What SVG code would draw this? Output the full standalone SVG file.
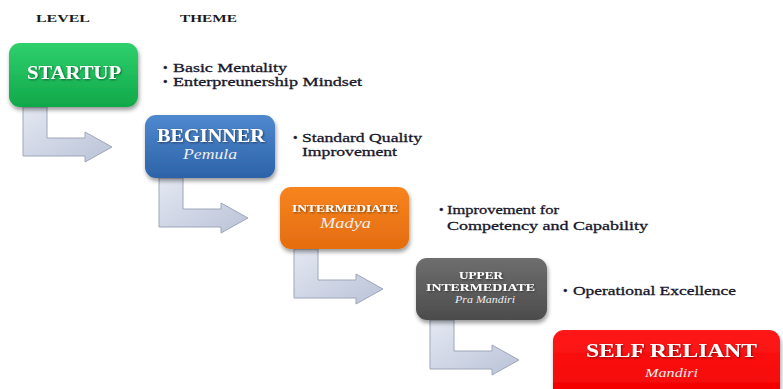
<svg xmlns="http://www.w3.org/2000/svg" width="783" height="389" viewBox="0 0 783 389">
<defs>
<style>
.hdr{font-family:"Liberation Serif",serif;font-weight:bold;font-size:11px;fill:#1a1a1a}
.t{font-family:"Liberation Serif",serif;font-weight:bold;fill:#ffffff;filter:url(#ts)}
.s{font-family:"Liberation Serif",serif;font-style:italic;fill:#eeeeee}
.th{font-family:"Liberation Serif",serif;font-size:13px;fill:#17172a;stroke:#17172a;stroke-width:0.3}
.arr{fill:url(#ga);stroke:#9ea6b8;stroke-width:1}
.box{filter:url(#sh)}
</style>
<filter id="sh" x="-10%" y="-10%" width="125%" height="135%">
<feGaussianBlur in="SourceAlpha" stdDeviation="2"/>
<feOffset dx="1" dy="3" result="b"/>
<feComponentTransfer><feFuncA type="linear" slope="0.4"/></feComponentTransfer>
<feMerge><feMergeNode/><feMergeNode in="SourceGraphic"/></feMerge>
</filter>
<filter id="ts" x="-5%" y="-20%" width="110%" height="150%">
<feGaussianBlur in="SourceAlpha" stdDeviation="0.8"/>
<feOffset dx="0.5" dy="1"/>
<feComponentTransfer><feFuncA type="linear" slope="0.5"/></feComponentTransfer>
<feMerge><feMergeNode/><feMergeNode in="SourceGraphic"/></feMerge>
</filter>
<linearGradient id="ga" x1="0" y1="0" x2="1" y2="1">
<stop offset="0" stop-color="#e4e8f2"/>
<stop offset="1" stop-color="#b9c2d7"/>
</linearGradient>
<linearGradient id="gg" x1="0" y1="0" x2="0" y2="1">
<stop offset="0" stop-color="#2fd06c"/>
<stop offset="1" stop-color="#10a84a"/>
</linearGradient>
<linearGradient id="gb" x1="0" y1="0" x2="0" y2="1">
<stop offset="0" stop-color="#4f88cf"/>
<stop offset="1" stop-color="#2d63a8"/>
</linearGradient>
<linearGradient id="go" x1="0" y1="0" x2="0" y2="1">
<stop offset="0" stop-color="#f7841f"/>
<stop offset="1" stop-color="#e46d0f"/>
</linearGradient>
<linearGradient id="gk" x1="0" y1="0" x2="0" y2="1">
<stop offset="0" stop-color="#6e6e6e"/>
<stop offset="1" stop-color="#4c4c4c"/>
</linearGradient>
<linearGradient id="gr" x1="0" y1="0" x2="0" y2="1">
<stop offset="0" stop-color="#ff1a1a"/>
<stop offset="1" stop-color="#f20000"/>
</linearGradient>
</defs>
<rect width="783" height="389" fill="#ffffff"/>

<text class="hdr" x="36" y="22" textLength="54" lengthAdjust="spacingAndGlyphs">LEVEL</text>
<text class="hdr" x="180" y="22" textLength="57" lengthAdjust="spacingAndGlyphs">THEME</text>

<g id="connectors">
<path class="arr" d="M23,107 L47,107 L47,138 L85,138 L85,132 L112,147 L85,162 L85,156 L23,156 Z"/>
<path class="arr" d="M159,178 L183,178 L183,209 L221,209 L221,203 L248,218 L221,233 L221,227 L159,227 Z"/>
<path class="arr" d="M294,249 L318,249 L318,280 L356,280 L356,274 L383,289 L356,304 L356,298 L294,298 Z"/>
<path class="arr" d="M430,320 L454,320 L454,351 L492,351 L492,345 L519,360 L492,375 L492,369 L430,369 Z"/>
</g>

<g id="startup">
<rect class="box" x="9" y="43" width="129" height="64" rx="11" fill="url(#gg)"/>
<text class="t" x="27" y="79" font-size="18" textLength="94" lengthAdjust="spacingAndGlyphs">STARTUP</text>
</g>
<g id="beginner">
<rect class="box" x="145" y="115" width="130" height="63" rx="11" fill="url(#gb)"/>
<text class="t" x="157" y="142" font-size="18" textLength="108" lengthAdjust="spacingAndGlyphs">BEGINNER</text>
<text class="s" x="183" y="159" font-size="15" textLength="54" lengthAdjust="spacingAndGlyphs">Pemula</text>
</g>
<g id="intermediate">
<rect class="box" x="280" y="187" width="129" height="62" rx="11" fill="url(#go)"/>
<text class="t" x="292" y="212" font-size="11" textLength="106" lengthAdjust="spacingAndGlyphs">INTERMEDIATE</text>
<text class="s" x="320" y="228" font-size="15" textLength="51" lengthAdjust="spacingAndGlyphs">Madya</text>
</g>
<g id="upper">
<rect class="box" x="416" y="258" width="131" height="62" rx="11" fill="url(#gk)"/>
<text class="t" x="459" y="279" font-size="11" textLength="44" lengthAdjust="spacingAndGlyphs">UPPER</text>
<text class="t" x="426" y="291" font-size="11" textLength="109" lengthAdjust="spacingAndGlyphs">INTERMEDIATE</text>
<text class="s" x="455" y="303" font-size="11" textLength="60" lengthAdjust="spacingAndGlyphs">Pra Mandiri</text>
</g>
<g id="selfreliant">
<rect class="box" x="553" y="330" width="227" height="70" rx="11" fill="url(#gr)"/>
<text class="t" x="586" y="357" font-size="19" textLength="171" lengthAdjust="spacingAndGlyphs">SELF RELIANT</text>
<text class="s" x="645" y="377" font-size="13" textLength="53" lengthAdjust="spacingAndGlyphs">Mandiri</text>
</g>

<g id="themes">
<text class="th" x="163" y="72">•</text>
<text class="th" x="173" y="72" textLength="114" lengthAdjust="spacingAndGlyphs">Basic Mentality</text>
<text class="th" x="163" y="86">•</text>
<text class="th" x="173" y="86" textLength="189" lengthAdjust="spacingAndGlyphs">Enterpreunership Mindset</text>
<text class="th" x="293" y="142">•</text>
<text class="th" x="302" y="142" textLength="120" lengthAdjust="spacingAndGlyphs">Standard Quality</text>
<text class="th" x="302" y="156" textLength="95" lengthAdjust="spacingAndGlyphs">Improvement</text>
<text class="th" x="439" y="214">•</text>
<text class="th" x="447" y="214" textLength="112" lengthAdjust="spacingAndGlyphs">Improvement for</text>
<text class="th" x="447" y="230" textLength="201" lengthAdjust="spacingAndGlyphs">Competency and Capability</text>
<text class="th" x="563" y="295">•</text>
<text class="th" x="573" y="295" textLength="163" lengthAdjust="spacingAndGlyphs">Operational Excellence</text>
</g>
</svg>
